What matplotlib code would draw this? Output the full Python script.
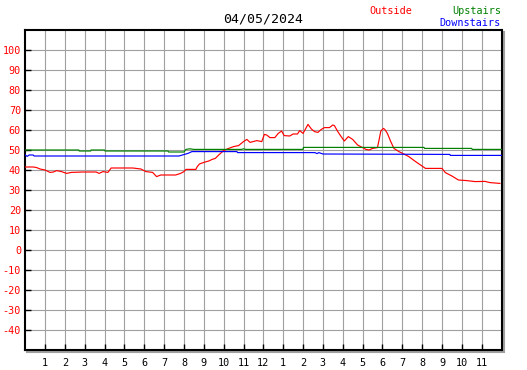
import matplotlib
matplotlib.use("Agg")
import matplotlib.pyplot as plt
from matplotlib.patches import Rectangle

# === Data (hours since midnight, temperature) ===
outside_h = [0.0, 0.42, 0.58, 0.75, 1.0, 1.25, 1.42, 1.58, 1.83, 2.08, 2.33, 2.92, 3.58, 3.72,
             3.92, 4.17, 4.33, 5.42, 5.83, 6.08, 6.42, 6.62, 6.83, 7.58, 7.83, 8.0, 8.1, 8.6,
             8.67, 8.78, 9.0, 9.25, 9.42, 9.58, 9.75, 10.0, 10.25, 10.5, 10.75, 11.0, 11.17,
             11.33, 11.67, 11.92, 12.05, 12.17, 12.33, 12.58, 12.75, 12.92, 13.05, 13.33, 13.5,
             13.72, 13.83, 14.0, 14.25, 14.42, 14.58, 14.75, 14.92, 15.08, 15.33, 15.5, 15.58,
             15.75, 15.92, 16.08, 16.28, 16.5, 16.75, 17.0, 17.17, 17.33, 17.5, 17.75, 17.83,
             17.92, 18.05, 18.12, 18.25, 18.42, 18.58, 18.83, 19.08, 19.33, 19.67, 19.92, 20.17,
             21.0, 21.17, 21.5, 21.83, 22.25, 22.67, 23.17, 23.42, 23.92]
outside_t = [41.5, 41.5, 41.2, 40.5, 40.0, 38.8, 39.0, 39.7, 39.2, 38.3, 38.8, 39.0, 39.0, 38.3,
             39.2, 38.8, 41.0, 41.0, 40.5, 39.2, 38.8, 36.7, 37.5, 37.5, 38.3, 39.2, 40.3, 40.3,
             41.7, 43.0, 43.8, 44.5, 45.3, 45.8, 47.5, 49.7, 50.8, 51.7, 52.2, 54.2, 55.3,
             53.8, 54.7, 54.2, 57.8, 57.5, 56.2, 56.2, 58.3, 59.5, 57.2, 57.0, 58.0,
             58.0, 59.7, 58.3, 62.8, 60.5, 59.2, 58.8, 60.3, 61.2, 61.2, 62.5, 62.2,
             59.2, 56.7, 54.5, 56.7, 55.3, 52.5, 51.2, 50.3, 50.0, 50.8, 51.2, 55.0,
             59.5, 60.8, 60.3, 58.3, 54.2, 50.8, 49.2, 48.0, 46.7, 44.2, 42.5, 40.8,
             40.8, 38.7, 37.0, 35.0, 34.7, 34.2, 34.3, 33.7, 33.3]

upstairs_h = [0.0, 2.7, 2.72, 3.3, 3.32, 4.0, 4.02, 7.2, 7.22, 8.0, 8.1, 8.3, 8.5, 10.9, 11.0,
              11.1, 14.0, 14.02, 20.1, 20.12, 22.5, 22.52, 24.0]
upstairs_t = [50.0, 50.0, 49.5, 49.5, 50.0, 50.0, 49.5, 49.5, 49.0, 49.0, 50.3, 50.6, 50.3, 50.3, 50.6,
              50.3, 50.3, 51.3, 51.3, 50.8, 50.8, 50.3, 50.3]

downstairs_h = [0.0, 0.1, 0.2, 0.4, 0.45, 7.75, 8.2, 8.4, 10.67, 10.7, 14.6, 14.7, 14.8, 15.0,
                21.4, 21.42, 24.0]
downstairs_t = [47.5, 46.8, 47.5, 47.5, 47.0, 47.0, 48.3, 49.2, 49.2, 48.7, 48.7, 48.2, 48.7, 48.0,
                47.8, 47.3, 47.3]

hour_labels = [str(h) for h in list(range(1, 13)) + list(range(1, 12))]
y_ticks = list(range(-40, 101, 10))

mono = "DejaVu Sans Mono"

fig = plt.figure(figsize=(5.27, 3.70), dpi=100)
ax = fig.add_axes([25.2 / 527, 20 / 370, 476.3 / 527, 320 / 370])

# drop shadow of the plot frame
shadow = Rectangle((27.2 / 527, 18 / 370), 476.3 / 527, 320 / 370, transform=fig.transFigure,
                   facecolor="none", edgecolor="#a0a0a0", lw=1.5, zorder=-1)
fig.patches.append(shadow)

ax.plot(outside_h, outside_t, color="#ff0000", lw=0.85, zorder=3)
ax.plot(upstairs_h, upstairs_t, color="#008000", lw=0.85, zorder=3)
ax.plot(downstairs_h, downstairs_t, color="#0000ff", lw=0.85, zorder=3)

ax.set_xlim(0, 24)
ax.set_ylim(-50, 110)
ax.set_xticks(range(1, 24))
ax.set_xticklabels(hour_labels, fontfamily=mono, fontsize=7.3)
ax.set_yticks(y_ticks)
ax.set_yticklabels([str(v) for v in y_ticks], fontfamily=mono, fontsize=7.3, color="#ff0000")
ax.tick_params(axis="both", direction="in", length=4, width=1, color="black")
ax.tick_params(axis="y", pad=3)
ax.tick_params(axis="x", pad=6)
ax.grid(True, color="#a0a0a0", lw=0.8)
ax.set_axisbelow(True)
for s in ax.spines.values():
    s.set_color("black")
    s.set_linewidth(1.5)

fig.text(263 / 527, 1 - 19 / 370, "04/05/2024", fontfamily=mono, fontsize=9.5,
         ha="center", va="center")
fig.text(369 / 527, 1 - 11 / 370, "Outside", fontfamily=mono, fontsize=7.3,
         color="#ff0000", ha="left", va="center")
fig.text(501 / 527, 1 - 11 / 370, "Upstairs", fontfamily=mono, fontsize=7.3,
         color="#008000", ha="right", va="center")
fig.text(501 / 527, 1 - 23 / 370, "Downstairs", fontfamily=mono, fontsize=7.3,
         color="#0000ff", ha="right", va="center")

fig.savefig("out.png", dpi=100)
